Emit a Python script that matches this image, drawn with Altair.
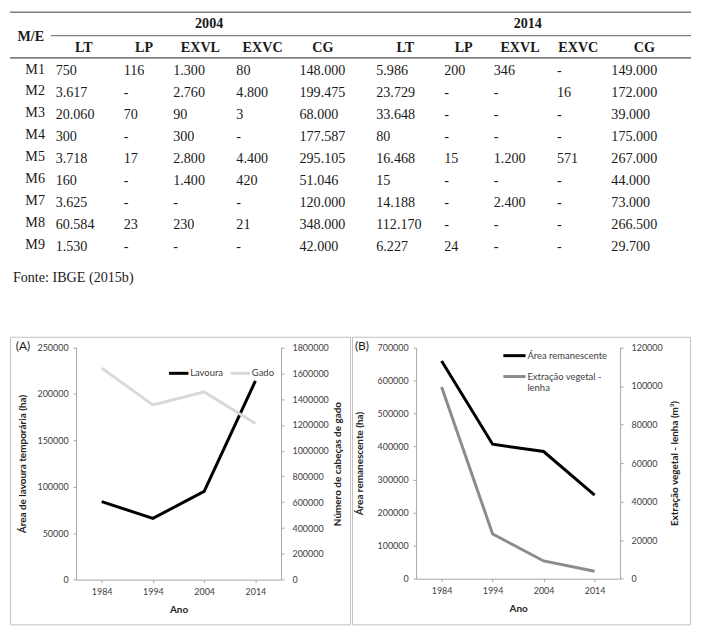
import altair as alt
import pandas as pd

# ---------------- data ----------------
rows = ["M1", "M2", "M3", "M4", "M5", "M6", "M7", "M8", "M9"]
col_names = ["LT", "LP", "EXVL", "EXVC", "CG"]
years_tab = ["2004", "2014"]

lt_2004 = ["750", "3.617", "20.060", "300", "3.718", "160", "3.625", "60.584", "1.530"]
lp_2004 = ["116", "-", "70", "-", "17", "-", "-", "23", "-"]
exvl_2004 = ["1.300", "2.760", "90", "300", "2.800", "1.400", "-", "230", "-"]
exvc_2004 = ["80", "4.800", "3", "-", "4.400", "420", "-", "21", "-"]
cg_2004 = ["148.000", "199.475", "68.000", "177.587", "295.105", "51.046", "120.000", "348.000", "42.000"]
lt_2014 = ["5.986", "23.729", "33.648", "80", "16.468", "15", "14.188", "112.170", "6.227"]
lp_2014 = ["200", "-", "-", "-", "15", "-", "-", "-", "24"]
exvl_2014 = ["346", "-", "-", "-", "1.200", "-", "2.400", "-", "-"]
exvc_2014 = ["-", "16", "-", "-", "571", "-", "-", "-", "-"]
cg_2014 = ["149.000", "172.000", "39.000", "175.000", "267.000", "44.000", "73.000", "266.500", "29.700"]

years = ["1984", "1994", "2004", "2014"]
lavoura = [84000, 66000, 95000, 214000]
gado = [1640000, 1355000, 1455000, 1210000]
area_rem = [659000, 407000, 385000, 253000]
lenha = [99500, 23200, 9200, 3900]

# ---------------- layout helpers ----------------
S = 685 / 701.0


def sx(x):
    return x * S


def sy(y):
    return (y - 1.5) * S


SERIF = "Liberation Serif"
SANS = "Lato"
TXT = "#1a1a1a"
TFS = 14.2

# ---------------- table ----------------
table_cols = [lt_2004, lp_2004, exvl_2004, exvc_2004, cg_2004,
              lt_2014, lp_2014, exvl_2014, exvc_2014, cg_2014]
cells = []
for c, col in enumerate(table_cols):
    for r, v in enumerate(col):
        cells.append({"c": c, "r": r, "t": v})
cells_df = pd.DataFrame(cells)

data_left = [47, 117, 168, 233, 298, 377, 447, 498, 563, 619]
head_center = [76, 138, 196, 260, 322, 407, 467, 525, 585, 653]

row_scale = alt.Scale(domain=[0, 8], range=[sy(63.5), sy(244.5)], nice=False, zero=False)

cells_layer = alt.Chart(cells_df).mark_text(
    align="left", baseline="middle", font=SERIF, fontSize=TFS, color=TXT
).encode(
    x=alt.X("c:Q", scale=alt.Scale(domain=list(range(10)), range=[sx(v) for v in data_left],
                                   nice=False, zero=False), axis=None),
    y=alt.Y("r:Q", scale=row_scale, axis=None),
    text="t:N",
)

rowlab_df = pd.DataFrame({"r": list(range(9)), "t": rows})
rowlab_layer = alt.Chart(rowlab_df).mark_text(
    align="right", baseline="middle", font=SERIF, fontSize=TFS, color=TXT, dy=-1.5
).encode(
    x=alt.value(sx(36)),
    y=alt.Y("r:Q", scale=row_scale, axis=None),
    text="t:N",
)

head_df = pd.DataFrame({"c": list(range(10)), "t": col_names * 2})
head_layer = alt.Chart(head_df).mark_text(
    align="center", baseline="middle", font=SERIF, fontSize=TFS, fontWeight="bold", color=TXT
).encode(
    x=alt.X("c:Q", scale=alt.Scale(domain=list(range(10)), range=[sx(v) for v in head_center],
                                   nice=False, zero=False), axis=None),
    y=alt.value(sy(40)),
    text="t:N",
)

year_df = pd.DataFrame({"c": [0, 1], "t": years_tab})
year_layer = alt.Chart(year_df).mark_text(
    align="center", baseline="middle", font=SERIF, fontSize=TFS, fontWeight="bold", color=TXT
).encode(
    x=alt.X("c:Q", scale=alt.Scale(domain=[0, 1], range=[sx(205), sx(533)], nice=False, zero=False),
            axis=None),
    y=alt.value(sy(15)),
    text="t:N",
)

me_layer = alt.Chart(pd.DataFrame({"t": ["M/E"]})).mark_text(
    align="center", baseline="middle", font=SERIF, fontSize=TFS, fontWeight="bold", color=TXT
).encode(x=alt.value(sx(21.5)), y=alt.value(sy(28)), text="t:N")

fonte_layer = alt.Chart(pd.DataFrame({"t": ["Fonte: IBGE (2015b)"]})).mark_text(
    align="left", baseline="middle", font=SERIF, fontSize=TFS, color=TXT
).encode(x=alt.value(sx(3)), y=alt.value(sy(277)), text="t:N")

RULE = "#7f7f7f"
rule_top = alt.Chart(pd.DataFrame({"k": [0]})).mark_rule(color=RULE, strokeWidth=1.6).encode(
    x=alt.value(0), x2=alt.value(sx(701)), y=alt.value(sy(3)))
rule_year = alt.Chart(pd.DataFrame({"k": [0]})).mark_rule(color=RULE, strokeWidth=1.3).encode(
    x=alt.value(sx(42)), x2=alt.value(sx(701)), y=alt.value(sy(27)))
rule_head = alt.Chart(pd.DataFrame({"k": [0]})).mark_rule(color=RULE, strokeWidth=1.6).encode(
    x=alt.value(0), x2=alt.value(sx(701)), y=alt.value(sy(50)))

table = alt.layer(
    rule_top, rule_year, rule_head, cells_layer, rowlab_layer, head_layer, year_layer, me_layer, fonte_layer
).resolve_scale(x="independent", y="independent").properties(width=685, height=300)

# ---------------- panels ----------------
AX = dict(domainColor="#a6a6a6", tickColor="#a6a6a6", tickSize=3, labelFont=SANS, labelFontSize=9,
          labelColor="#404040", titleFont=SANS, titleFontSize=10, titleColor="#262626",
          titleFontWeight="bold", grid=False)


def panel(letter, ox, W, H, L, R, T, B, s1, v1, dom1, ticks1, t1, t1x,
          s2, v2, dom2, ticks2, t2, t2x, colors, legend):
    L, R, T, B = sx(L - ox), sx(R - ox), sy(T) - sy(335), sy(B) - sy(335)
    xenc = alt.X("Ano:O", scale=alt.Scale(type="point", range=[L, R], padding=0.5),
                 axis=alt.Axis(title="Ano", orient="bottom", offset=-(H - B), labelAngle=0,
                               labelPadding=5, titleX=(L + R) / 2, titleY=30.5,
                               titleBaseline="middle", titleAlign="center", **AX))
    col = alt.Color("serie:N", scale=alt.Scale(domain=[s1, s2], range=colors), legend=legend)
    d1 = pd.DataFrame({"Ano": years, "valor": v1, "serie": s1})
    d2 = pd.DataFrame({"Ano": years, "valor": v2, "serie": s2})
    l1 = alt.Chart(d1).mark_line(strokeWidth=3).encode(
        x=xenc,
        y=alt.Y("valor:Q", scale=alt.Scale(domain=dom1, range=[B, T], nice=False, zero=True),
                axis=alt.Axis(title=t1, orient="left", offset=-L, values=ticks1, format="d",
                              labelPadding=5, titleX=sx(t1x - ox) - L, titleY=(T + B) / 2,
                              titleAngle=270, titleBaseline="middle", titleAlign="center", **AX)),
        color=col,
    )
    l2 = alt.Chart(d2).mark_line(strokeWidth=3).encode(
        x=xenc,
        y=alt.Y("valor:Q", scale=alt.Scale(domain=dom2, range=[B, T], nice=False, zero=True),
                axis=alt.Axis(title=t2, orient="right", offset=-(W - R), values=ticks2, format="d",
                              labelPadding=8, titleX=sx(t2x - ox) - R, titleY=(T + B) / 2,
                              titleAngle=270, titleBaseline="middle", titleAlign="center", **AX)),
        color=col,
    )
    lab = alt.Chart(pd.DataFrame({"t": [letter]})).mark_text(
        align="left", baseline="middle", font=SANS, fontSize=12, color=TXT
    ).encode(x=alt.value(sx(6 if ox == 0 else 3)), y=alt.value(9.8), text="t:N")
    return alt.layer(l1, l2, lab).resolve_scale(y="independent").properties(
        width=W, height=H, view=alt.ViewBackground(stroke="#bfbfbf", strokeWidth=1))


LEG = dict(orient="none", title=None, symbolType="stroke", symbolStrokeWidth=3, labelFont=SANS,
           labelFontSize=9.5, labelColor="#404040", padding=0, labelOffset=0)

legA = alt.Legend(legendX=sx(165) - 3, legendY=25, direction="horizontal", symbolSize=380,
                  columnPadding=0, **LEG)
legB = alt.Legend(legendX=sx(507 - 350) - 3, legendY=6, direction="vertical", symbolSize=500,
                  rowPadding=2,
                  labelExpr="datum.label == 'Extração vegetal - lenha' ? ['Extração vegetal -', 'lenha'] : datum.label",
                  **LEG)

H = sy(631) - sy(335)
panelA = panel("(A)", 0, 342, H, 68, 279, 346, 585,
               "Lavoura", lavoura, [0, 250000], [0, 50000, 100000, 150000, 200000, 250000],
               "Área de lavoura temporária (ha)", 13,
               "Gado", gado, [0, 1800000], list(range(0, 1800001, 200000)),
               "Número de cabeças de gado", 337,
               ["#000000", "#d9d9d9"], legA)
panelB = panel("(B)", 350, 340, H, 416, 626, 346, 584,
               "Área remanescente", area_rem, [0, 700000], list(range(0, 700001, 100000)),
               "Área remanescente (ha)", 358,
               "Extração vegetal - lenha", lenha, [0, 120000], list(range(0, 120001, 20000)),
               "Extração vegetal - lenha (m³)", 682,
               ["#000000", "#8c8c8c"], legB)

panels = alt.hconcat(panelA, panelB, spacing=0).resolve_scale(color="independent").resolve_legend(
    color="independent")

chart = alt.vconcat(table, panels, spacing=sy(335) - 300).resolve_scale(
    color="independent").properties(padding=0).configure_view(stroke="transparent")

chart.save("out.html", embed_options={"renderer": "svg", "actions": False})
